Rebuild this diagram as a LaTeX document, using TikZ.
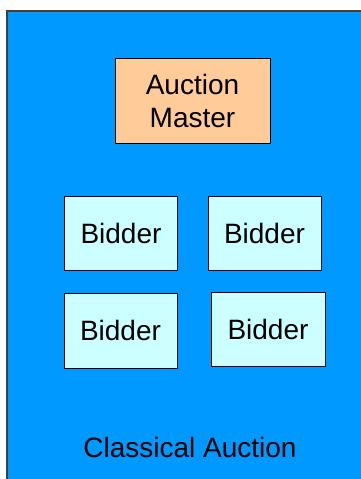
\documentclass[tikz,border=0pt]{standalone}
\usepackage{fontspec}
\setmainfont{Liberation Sans}
\usepackage{xcolor}
\definecolor{auctionblue}{HTML}{0099FF}
\definecolor{masterorange}{HTML}{FFCC99}
\definecolor{biddercyan}{HTML}{CCFFFF}
\usetikzlibrary{positioning}
\tikzset{
	box/.style={
			draw=black, line width=0.8pt, inner sep=0pt, outer sep=0pt, align=center,
			font=\fontsize{28}{33}\selectfont
		}
}
\begin{document}
\begin{tikzpicture}[x=1pt, y=-1pt,
		MasterStyle/.style={box, fill=masterorange, minimum width=155pt, minimum height=85pt},
		BidderStyle/.style={box, fill=biddercyan, minimum width=113pt, minimum height=74pt}]
		\useasboundingbox (0,0) rectangle (361,479);
		\fill[white] (0,0) rectangle (361,479);
		\filldraw[fill=auctionblue, draw=black!75, line width=1.5pt] (7,11) rectangle (372,490);
		\node[MasterStyle] (master) at (192.5,100.5) {Auction\\Master};
		\node[BidderStyle] (bidderA) at (121,233) {Bidder};
		\node[BidderStyle] (bidderB) at (264.5,233.5) {Bidder};
		\node[BidderStyle, minimum height=75pt] (bidderC) at (120.5,330.5) {Bidder};
		\node[BidderStyle, minimum width=114pt] (bidderD) at (268,329) {Bidder};
		\node[font=\fontsize{28}{33}\selectfont, inner sep=0pt] (title) at (190,447) {Classical Auction};
	\end{tikzpicture}
\end{document}
